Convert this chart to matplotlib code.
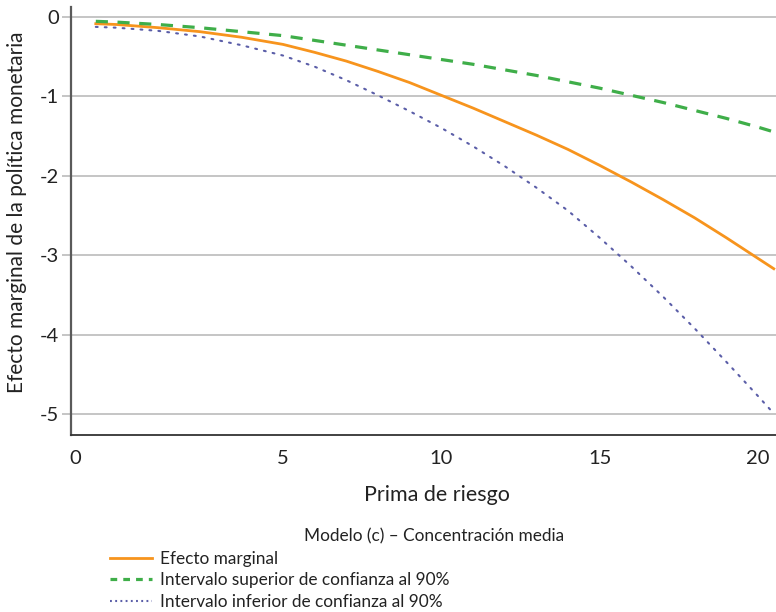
import numpy as np
import matplotlib
matplotlib.use("Agg")
import matplotlib.pyplot as plt
from matplotlib.lines import Line2D

plt.rcParams['font.family'] = ['Lato', 'DejaVu Sans']

# Prima de riesgo (x) and the estimated marginal effect with its 90% band
prima = [0.5, 1, 2, 3, 4, 5, 6, 7, 8, 9, 10,
         11, 12, 13, 14, 15, 16, 17, 18, 19, 20, 20.5]
efecto = [-0.09, -0.10, -0.14, -0.19, -0.26, -0.35, -0.45, -0.56, -0.69, -0.83, -0.99,
          -1.15, -1.32, -1.49, -1.67, -1.87, -2.08, -2.30, -2.53, -2.78, -3.04, -3.17]
superior = [-0.06, -0.07, -0.10, -0.14, -0.19, -0.24, -0.30, -0.36, -0.42, -0.48, -0.54,
            -0.60, -0.67, -0.74, -0.82, -0.90, -0.99, -1.08, -1.18, -1.28, -1.39, -1.45]
inferior = [-0.13, -0.14, -0.18, -0.25, -0.36, -0.49, -0.63, -0.80, -0.99, -1.19, -1.40,
            -1.63, -1.88, -2.15, -2.44, -2.78, -3.14, -3.52, -3.92, -4.34, -4.77, -4.99]

xticks = [0, 5, 10, 15, 20]
yticks = [0, -1, -2, -3, -4, -5]

titulo = "Modelo (c) – Concentración media"
nombres = ["Efecto marginal",
           "Intervalo superior de confianza al 90%",
           "Intervalo inferior de confianza al 90%"]

c_naranja = "#F7941D"
c_verde = "#3FAE49"
c_morado = "#5B5EA8"


# x axis: the first interval (0-5) is drawn wider than the later ones
def fwd(x):
    x = np.asarray(x, dtype=float)
    return np.where(x < 5, x * 41.6, 208 + (x - 5) * 31.67)


def inv(p):
    p = np.asarray(p, dtype=float)
    return np.where(p < 208, p / 41.6, 5 + (p - 208) / 31.67)


fig = plt.figure(figsize=(7.76, 6.12), dpi=100)
ax = fig.add_axes([71 / 776, 1 - 435 / 612, 705 / 776, 428 / 612])
ax.set_xscale('function', functions=(fwd, inv))

ax.plot(prima, efecto, color=c_naranja, lw=2.0, solid_joinstyle='round', zorder=3)
ax.plot(prima, superior, color=c_verde, lw=2.3, dashes=(3.8, 3.0), zorder=3)
ax.plot(prima, inferior, color=c_morado, lw=1.5, dashes=(0.9, 3.4),
        dash_capstyle='round', zorder=3)

ax.set_xlim(-0.096, 20.57)
ax.set_ylim(-5.26, 0.12)

ax.set_xticks(xticks)
ax.set_xticklabels([str(t) for t in xticks])
ax.set_yticks(yticks)
ax.set_yticklabels([str(t) for t in yticks])

ax.yaxis.grid(True, color="#b5b5b5", lw=1.1)
ax.set_axisbelow(True)

for s in ['top', 'right']:
    ax.spines[s].set_visible(False)
ax.spines['left'].set_color("#5a5a5a")
ax.spines['left'].set_linewidth(1.6)
ax.spines['bottom'].set_color("#333333")
ax.spines['bottom'].set_linewidth(1.3)

ax.tick_params(axis='x', length=0, pad=11, labelsize=14.5, labelcolor="#222222")
ax.tick_params(axis='y', length=6.5, width=1.1, color="#b5b5b5", pad=2,
               labelsize=14.5, labelcolor="#222222")

ax.set_xlabel("Prima de riesgo", fontsize=15.5, color="#222222", labelpad=15)
ax.xaxis.set_label_coords((437 - 71) / 705, -(495 - 435) / 428)
ax.xaxis.label.set_va('center')
ax.set_ylabel("Efecto marginal de la política monetaria", fontsize=15,
              color="#222222")
ax.yaxis.set_label_coords(-(71 - 17) / 705, (435 - 212) / 428)
ax.yaxis.label.set_va('center')

fig.text(434 / 776, 1 - 536 / 612, titulo, ha='center', va='center',
         fontsize=12.4, color="#222222")

handles = [
    Line2D([], [], color=c_naranja, lw=2.0),
    Line2D([], [], color=c_verde, lw=2.3, dashes=(2.1, 1.9)),
    Line2D([], [], color=c_morado, lw=1.5, dashes=(0.9, 1.6)),
]
fig.legend(handles, nombres, loc='upper left',
           bbox_to_anchor=(110 / 776, 1 - 551 / 612), frameon=False,
           fontsize=12.4, handlelength=2.44, handletextpad=0.47,
           labelspacing=0.31, borderpad=0, borderaxespad=0,
           labelcolor="#222222")

fig.savefig("out.png", dpi=100)
